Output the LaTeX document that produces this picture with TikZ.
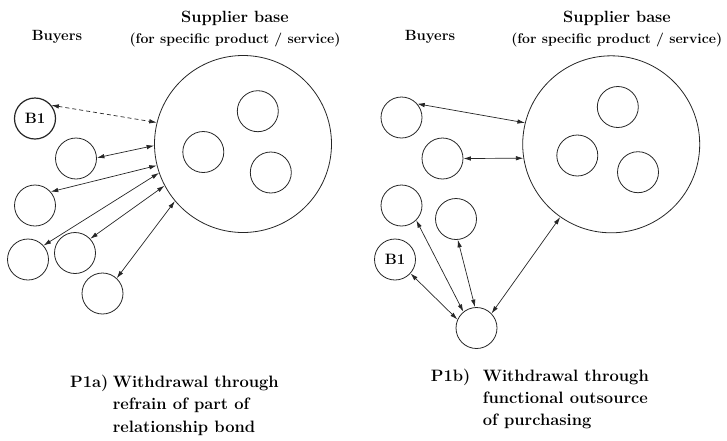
\documentclass[tikz,border=0pt]{standalone}
\usepackage{fontspec}
\usetikzlibrary{arrows.meta}
\begin{document}
\begin{tikzpicture}[x=1pt,y=-1pt,
  bub/.style={circle,draw=black!85,line width=0.8pt,minimum size=41pt,inner sep=0pt,
    font=\bfseries\fontsize{15}{17}\selectfont},
  supbase/.style={circle,draw=black!85,line width=0.8pt,minimum size=177pt,inner sep=0pt},
  conn/.style={draw=black!85,line width=0.7pt,{Latex[length=7.5pt,width=4.5pt]}-{Latex[length=7.5pt,width=4.5pt]}},
  dconn/.style={conn,dash pattern=on 4pt off 3pt},
  ttl/.style={anchor=base,inner sep=0pt,font=\bfseries\fontsize{16.3}{19}\selectfont},
  subttl/.style={anchor=base,inner sep=0pt,font=\bfseries\fontsize{14}{17}\selectfont},
  byr/.style={anchor=base,inner sep=0pt,font=\bfseries\fontsize{14.8}{17}\selectfont},
  captxt/.style={anchor=base west,inner sep=0pt,font=\bfseries\fontsize{16.5}{20}\selectfont}
]
\useasboundingbox (0,0) rectangle (727,440);

% ---------- left panel ----------
\node[byr] (lbuy) at (57,40.5) {Buyers};
\node[ttl] (lsup) at (235,22.3) {Supplier base};
\node[subttl] (lsub) at (235,43.3) {(for specific product / service)};

\node[supbase] (lbig) at (243,144) {};
\node[bub] (ls1) at (257.8,111.2) {};
\node[bub] (ls2) at (203.3,152) {};
\node[bub] (ls3) at (270.8,172.5) {};

\node[bub,line width=1.2pt] (lb1) at (35,118.5) {B1};
\node[bub] (lb2) at (76,158.5) {};
\node[bub] (lb3) at (35,205.5) {};
\node[bub] (lb4) at (28,259.5) {};
\node[bub] (lb5) at (75,253) {};
\node[bub] (lb6) at (102.5,293.5) {};

\draw[dconn] (lb1.39) -- (lbig.166);
\draw[conn] (lb2.2) -- (lbig.181);
\draw[conn] (lb3.41) -- (lbig.194);
\draw[conn] (lb4.42) -- (lbig.199.5);
\draw[conn] (lb5.43) -- (lbig.208.5);
\draw[conn] (lb6.47) -- (lbig.220);

\node[captxt] (lp) at (70,387) {P1a)};
\node[captxt] (lc1) at (112.7,387) {Withdrawal through};
\node[captxt] (lc2) at (112.7,409.5) {refrain of part of};
\node[captxt] (lc3) at (112.7,432) {relationship bond};

% ---------- right panel ----------
\node[byr] (rbuy) at (430,40.5) {Buyers};
\node[ttl] (rsup) at (617,22.3) {Supplier base};
\node[subttl] (rsub) at (616.7,43.3) {(for specific product / service)};

\node[supbase] (rbig) at (611.2,144.3) {};
\node[bub] (rs1) at (617.8,107) {};
\node[bub] (rs2) at (577.3,155.5) {};
\node[bub] (rs3) at (638,172.2) {};

\node[bub] (ra) at (401.5,117.5) {};
\node[bub] (rb) at (442.5,158.5) {};
\node[bub] (rc) at (401.5,205.5) {};
\node[bub] (rd) at (456,219) {};
\node[bub] (rb1) at (395,259.5) {B1};
\node[bub] (hub) at (476.5,328) {};

\draw[conn] (ra.41) -- (rbig.166);
\draw[conn] (rb.0) -- (rbig.189);
\draw[conn] (rc.315) -- (hub.129.5);
\draw[conn] (rd.275) -- (hub.94);
\draw[conn] (rb1.318) -- (hub.156);
\draw[conn] (rbig.235) -- (hub.44);

\node[captxt] (rp) at (430.7,381) {P1b)};
\node[captxt] (rc1) at (482.7,381) {Withdrawal through};
\node[captxt] (rc2) at (482.7,403) {functional outsource};
\node[captxt] (rc3) at (482.7,425) {of purchasing};
\end{tikzpicture}
\end{document}
